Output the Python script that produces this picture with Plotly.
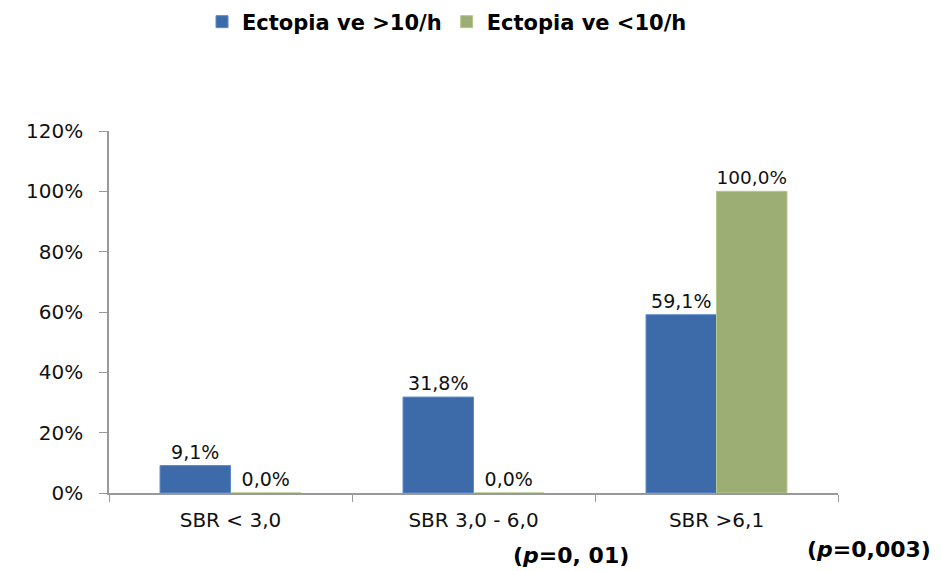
import plotly.graph_objects as go

categories = ["SBR < 3,0", "SBR 3,0 - 6,0", "SBR >6,1"]
series_names = ["Ectopia ve >10/h", "Ectopia ve <10/h"]
high_values = [0.091, 0.318, 0.591]
low_values = [0.0, 0.0, 1.0]
y_ticks = [0, 0.2, 0.4, 0.6, 0.8, 1.0, 1.2]
p_labels = ["(<i>p</i>=0, 01)", "(<i>p</i>=0,003)"]

FONT = "DejaVu Sans"
OFF = 8  # page body margin
W, H = 942, 571

L, R, T, B = 109 - OFF, 942 - 838 + OFF, 131 - OFF, 571 - 493 + OFF
PW, PH = 838 - 109, 493 - 131

fig = go.Figure()
fig.add_trace(go.Bar(
    name=series_names[0], x=categories, y=high_values,
    marker=dict(color="#3d6aa8", line=dict(color="#5a8ccc", width=1)),
    texttemplate="%{y:.1%}", textposition="outside",
    textfont=dict(family=FONT, size=19, color="#111"), cliponaxis=False,
))
fig.add_trace(go.Bar(
    name=series_names[1], x=categories, y=low_values,
    marker=dict(color="#9cae74", line=dict(color="#b5c88c", width=1)),
    texttemplate="%{y:.1%}", textposition="outside",
    textfont=dict(family=FONT, size=19, color="#111"), cliponaxis=False,
))

fig.update_layout(
    width=W, height=H,
    margin=dict(l=L, r=R, t=T, b=B, autoexpand=False),
    paper_bgcolor="white", plot_bgcolor="white",
    separators=", ",
    barmode="group", bargap=0.42, bargroupgap=0,
    font=dict(family=FONT, size=19, color="#111"),
    legend=dict(orientation="h", xref="container", yref="container",
                x=(447 - OFF) / W, xanchor="center",
                y=1 - (22 - OFF) / H, yanchor="middle",
                font=dict(family=FONT, size=21, color="#000", weight="bold"),
                itemwidth=30, tracegroupgap=0),
    xaxis=dict(showline=True, linecolor="#999", linewidth=1.5, ticks="outside",
               tickson="boundaries", ticklen=7, tickcolor="#999", ticklabelstandoff=8,
               tickfont=dict(family=FONT, size=20, color="#111"), showgrid=False),
    yaxis=dict(range=[0, 1.2], tickvals=y_ticks, tickformat=".0%", showline=True,
               linecolor="#999", linewidth=1.5, ticks="outside", ticklen=8, tickcolor="#999",
               ticklabelstandoff=12,
               tickfont=dict(family=FONT, size=20, color="#111"), showgrid=False,
               zeroline=False),
)

fig.add_annotation(text=p_labels[0], xref="paper", yref="paper", x=(571 - 109) / PW,
                   y=-(555 - 493) / PH, showarrow=False, xanchor="center", yanchor="middle",
                   font=dict(family=FONT, size=22, color="#000", weight="bold"))
fig.add_annotation(text=p_labels[1], xref="paper", yref="paper", x=(869 - 109) / PW,
                   y=-(549 - 493) / PH, showarrow=False, xanchor="center", yanchor="middle",
                   font=dict(family=FONT, size=22, color="#000", weight="bold"))

fig.write_html("out.html")
